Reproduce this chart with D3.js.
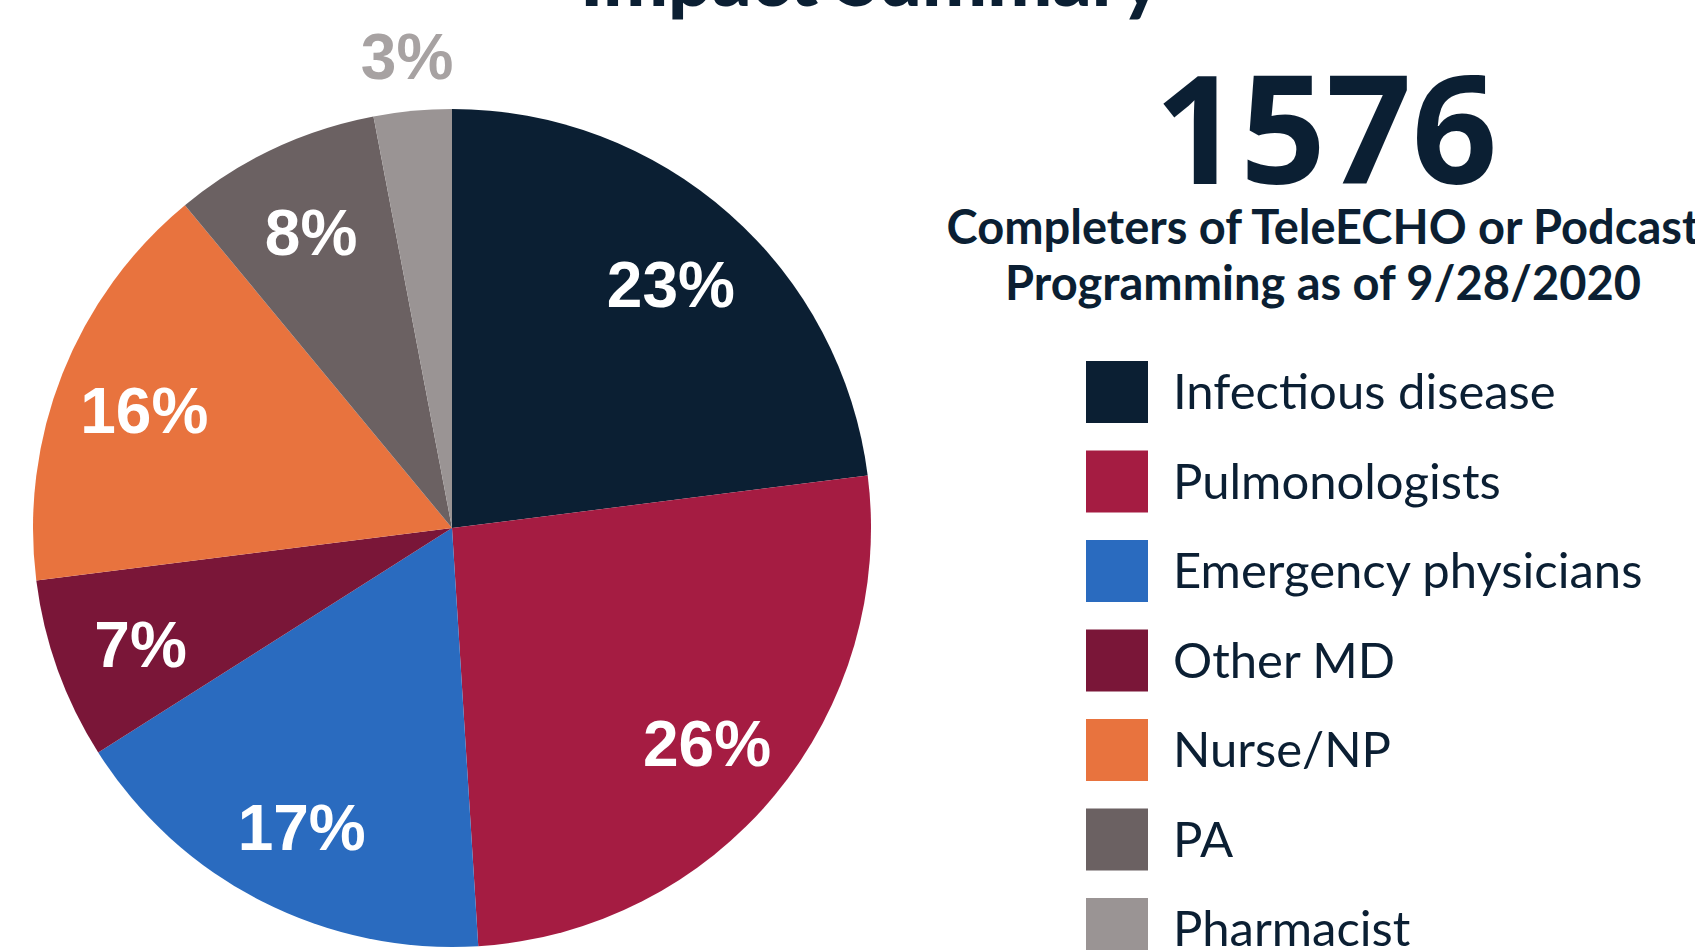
<!DOCTYPE html>
<html>
<head>
<meta charset="utf-8">
<script src="https://cdn.jsdelivr.net/npm/d3@7"></script>
<style>
  body { margin: 0; background: #fff; }
  svg { display: block; }
</style>
</head>
<body>
<div id="root"></div>
<script>
// values (percent of completers)
const categories = ['Infectious disease', 'Pulmonologists', 'Emergency physicians', 'Other MD', 'Nurse/NP', 'PA', 'Pharmacist']
const shares = [23, 26, 17, 7, 16, 8, 3]
const colors = ['#0b1f33', '#a51c42', '#2a6bbf', '#7a1638', '#e8733e', '#6b6162', '#9a9494']
const totalCompleters = '1576'
const subtitleLines = ['Completers of TeleECHO or Podcast', 'Programming as of 9/28/2020']
const titleText = 'Impact Summary'

const navy = '#0b1f33'
const dimensions = { width: 1695, height: 950 }
const pieBox = { cx: 452, cy: 528, r: 419 }

const svg = d3.select('#root')
  .append('svg')
  .attr('width', dimensions.width)
  .attr('height', dimensions.height)

// shrink / grow font size so text fills a given width
function fitWidth (sel, target) {
  const node = sel.node()
  const size = parseFloat(sel.attr('font-size'))
  const w = node.getComputedTextLength()
  sel.attr('font-size', size * target / w)
}

// title, mostly cut off at the top edge
const title = svg.append('text')
  .text(titleText)
  .attr('x', 871)
  .attr('y', 6)
  .attr('text-anchor', 'middle')
  .attr('font-family', 'Lato, sans-serif')
  .attr('font-weight', 900)
  .attr('font-size', 80)
  .attr('fill', navy)
fitWidth(title, 582)

// pie
const pie = d3.pie().sort(null).value(d => d)
const arcs = pie(shares).map((a, i) => ({ ...a, name: categories[i], color: colors[i] }))
const arc = d3.arc().innerRadius(0).outerRadius(pieBox.r)
const labelArc = d3.arc().innerRadius(pieBox.r * 0.79).outerRadius(pieBox.r * 0.79)
const outerLabelArc = d3.arc().innerRadius(pieBox.r * 1.14).outerRadius(pieBox.r * 1.14)

const bounds = svg.append('g')
  .attr('transform', `translate(${pieBox.cx}, ${pieBox.cy})`)

bounds.selectAll('path')
  .data(arcs)
  .join('path')
  .attr('d', arc)
  .attr('fill', d => d.color)

bounds.selectAll('.pct')
  .data(arcs)
  .join('text')
  .attr('class', 'pct')
  .attr('transform', d => `translate(${(d.data < 5 ? outerLabelArc : labelArc).centroid(d)})`)
  .attr('text-anchor', 'middle')
  .attr('dy', '0.42em') // sits a bit low in the original
  .attr('font-family', '"Liberation Sans", Arial, sans-serif')
  .attr('font-weight', 'bold')
  .attr('font-size', 64)
  .attr('fill', d => d.data < 5 ? '#a7a2a2' : '#fff')
  .text(d => d.data + '%')

// big number + subtitle
const big = svg.append('text')
  .text(totalCompleters)
  .attr('x', 1326)
  .attr('y', 184)
  .attr('text-anchor', 'middle')
  .attr('font-family', '"Open Sans", sans-serif')
  .attr('font-weight', 'bold')
  .attr('font-size', 148)
  .attr('fill', navy)
fitWidth(big, 343)

const subWidths = [753, 636]
subtitleLines.forEach((line, i) => {
  const t = svg.append('text')
    .text(line)
    .attr('x', 1323)
    .attr('y', 244 + i * 56)
    .attr('text-anchor', 'middle')
    .attr('font-family', 'Lato, sans-serif')
    .attr('font-weight', 'bold')
    .attr('font-size', 42)
    .attr('fill', navy)
  fitWidth(t, subWidths[i])
})

// legend
const legendStep = 89.5
const legend = svg.append('g')
  .attr('transform', 'translate(1086, 361)')
const items = legend.selectAll('g')
  .data(categories)
  .join('g')
  .attr('transform', (d, i) => `translate(0, ${i * legendStep})`)
items.append('rect')
  .attr('width', 62)
  .attr('height', 62)
  .attr('fill', (d, i) => colors[i])
items.append('text')
  .attr('x', 87)
  .attr('y', 31 + 17)
  .attr('font-family', 'Lato, sans-serif')
  .attr('font-size', 49)
  .attr('fill', navy)
  .text(d => d)
</script>
</body>
</html>
